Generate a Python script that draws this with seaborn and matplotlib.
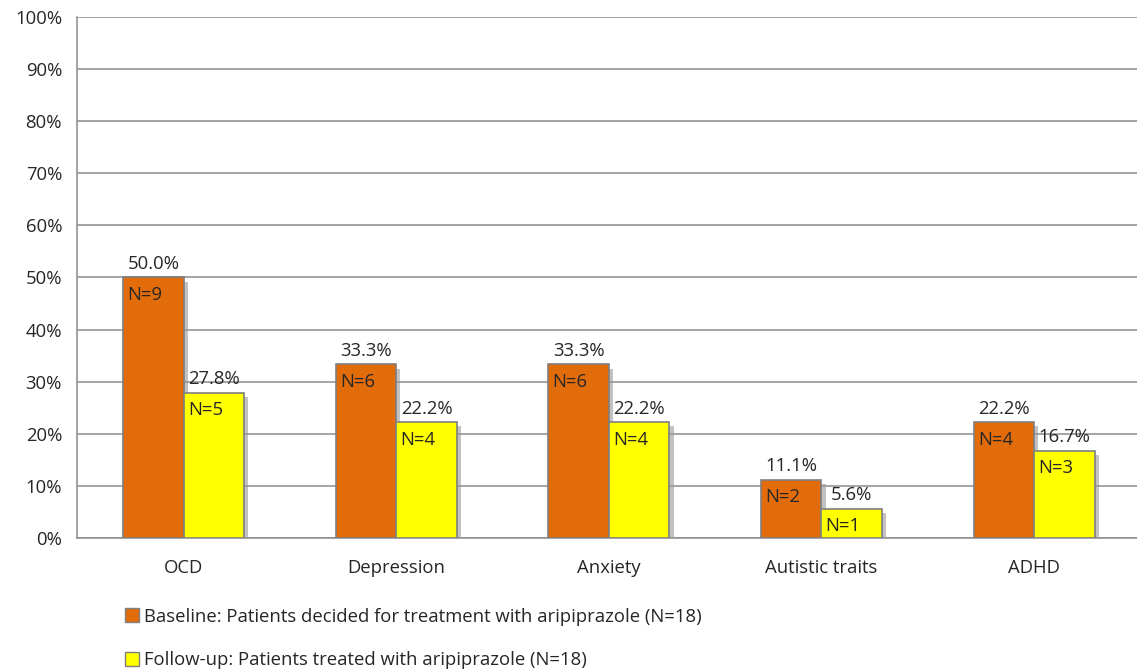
import matplotlib
matplotlib.use("Agg")
import matplotlib.pyplot as plt
import matplotlib.patheffects as pe
from matplotlib.patches import Patch
import numpy as np
import pandas as pd
import seaborn as sns

categories = ["OCD", "Depression", "Anxiety", "Autistic traits", "ADHD"]
baseline_pct = [50.0, 33.3, 33.3, 11.1, 22.2]
followup_pct = [27.8, 22.2, 22.2, 5.6, 16.7]
baseline_n = [9, 6, 6, 2, 4]
followup_n = [5, 4, 4, 1, 3]
series = [
    "Baseline: Patients decided for treatment with aripiprazole (N=18)",
    "Follow-up: Patients treated with aripiprazole (N=18)",
]
colors = ["#E36C0A", "#FFFF00"]

df = pd.DataFrame({
    "category": categories * 2,
    "pct": baseline_pct + followup_pct,
    "n": baseline_n + followup_n,
    "series": [series[0]] * len(categories) + [series[1]] * len(categories),
})

sns.set_style("white")
plt.rcParams["font.family"] = ["Open Sans", "DejaVu Sans"]
FS = 13.3

fig = plt.figure(figsize=(11.37, 6.70), dpi=100)
ax = fig.add_axes([0.068, 0.197, 0.935, 0.778])

sns.barplot(data=df, x="category", y="pct", hue="series", palette=colors,
            width=0.57, edgecolor="#7F7F7F", linewidth=1.2, saturation=1,
            legend=False, ax=ax, zorder=3)

shadow = [pe.SimplePatchShadow(offset=(3, -3), shadow_rgbFace="#9A9A9A", alpha=0.6),
          pe.Normal()]
for cont, vals, ns in zip(ax.containers, [baseline_pct, followup_pct],
                          [baseline_n, followup_n]):
    for bar, v, n in zip(cont, vals, ns):
        bar.set_path_effects(shadow)
        x0 = bar.get_x()
        w = bar.get_width()
        h = bar.get_height()
        ax.text(x0 + w / 2, h + 0.9, f"{v:.1f}%", ha="center", va="bottom",
                fontsize=FS, color="#262626")
        ax.text(x0 + 0.02, h - 1.6, f"N={n}", ha="left", va="top",
                fontsize=FS, color="#262626", zorder=5)

ax.set_ylim(0, 100)
ax.set_xlim(-0.5, len(categories) - 0.5)
ax.set_yticks(np.arange(0, 101, 10))
ax.set_yticklabels([f"{t}%" for t in range(0, 101, 10)], fontsize=FS, color="#262626")
ax.yaxis.grid(True, color="#8C8C8C", linewidth=1.1, zorder=0)
ax.set_axisbelow(True)
ax.set_xlabel("")
ax.set_ylabel("")
ax.tick_params(axis="x", labelsize=FS, labelcolor="#262626", length=0, pad=15)
ax.set_xticks(np.arange(-0.5, len(categories) - 0.4, 1.0), minor=True)
ax.tick_params(axis="x", which="minor", length=6, color="#8C8C8C", width=1.1)
ax.tick_params(axis="y", length=7, color="#8C8C8C", width=1.1, pad=4)
for side in ["top", "right"]:
    ax.spines[side].set_visible(False)
ax.spines["left"].set_color("#8C8C8C")
ax.spines["left"].set_linewidth(1.1)
ax.spines["bottom"].set_color("#8C8C8C")
ax.spines["bottom"].set_linewidth(1.1)

handles = [Patch(facecolor=c, edgecolor="#7F7F7F") for c in colors]
fig.legend(handles, series, loc="upper left", bbox_to_anchor=(0.110, 0.093),
           frameon=False, fontsize=FS, handlelength=0.75, handleheight=0.8,
           handletextpad=0.3, labelspacing=1.38, labelcolor="#262626",
           borderaxespad=0, borderpad=0)

fig.savefig("out.png", dpi=100)
